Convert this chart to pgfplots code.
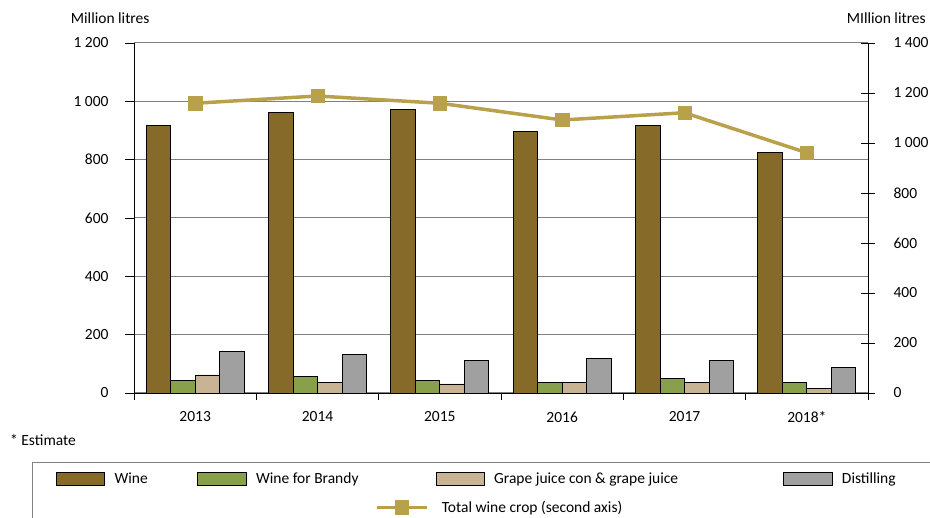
\documentclass[border=0pt]{standalone}
\usepackage{fontspec}
\setmainfont{Carlito}
\usepackage{pgfplots}
\pgfplotsset{compat=1.18}
\definecolor{wine}{RGB}{134,106,42}
\definecolor{brandy}{RGB}{136,160,76}
\definecolor{grape}{RGB}{200,180,148}
\definecolor{distil}{RGB}{160,160,160}
\definecolor{total}{RGB}{185,160,75}
\definecolor{gridc}{RGB}{128,128,128}
\begin{document}
\begin{tikzpicture}[font=\fontsize{15.5}{18}\selectfont]
\useasboundingbox (0,0) rectangle (930pt,-518pt);
\begin{axis}[
  at={(134pt,-393pt)}, anchor=south west,
  width=734pt, height=350pt, scale only axis,
  xmin=-0.5, xmax=5.5, ymin=0, ymax=1200,
  ybar=0pt, bar width=24.5pt,
  axis x line*=bottom, axis y line*=left,
  axis line style={black, line width=0.9pt},
  xtick={0,1,2,3,4,5},
  xticklabels={2013,2014,2015,2016,2017,2018*},
  minor xtick={-0.5,0.5,...,5.5},
  major x tick style={draw=none},
  minor x tick style={black, line width=0.9pt},
  minor tick length=7pt,
  ytick={0,200,...,1200},
  major y tick style={black, line width=0.9pt},
  major tick length=9pt,
  tick align=outside,
  ymajorgrids, major grid style={gridc, line width=1pt},
  /pgf/number format/assume math mode=true,
  /pgf/number format/1000 sep={\ },
  yticklabel style={xshift=-13pt},
  xticklabel style={yshift=-6pt},
  legend image code/.code={\draw[#1] (0pt,-6.3pt) rectangle (48.5pt,6.3pt);},
  legend columns=4,
  legend style={at={(axis description cs:-0.10627,-0.2449)}, anchor=west,
    draw=none, fill=none, inner sep=0pt, outer sep=0pt,
    nodes={inner sep=0pt, outer sep=0pt},
    /tikz/every odd column/.append style={column sep=9.3pt},
    /tikz/every even column/.append style={column sep=0pt}},
]
\addplot[fill=wine, draw=black, line width=0.8pt] coordinates {(0,916) (1,961) (2,972) (3,897) (4,916) (5,825)};
\addlegendentry{\makebox[82.9pt][l]{Wine}}
\addplot[fill=brandy, draw=black, line width=0.8pt] coordinates {(0,43) (1,57) (2,43) (3,37) (4,50) (5,37)};
\addlegendentry{\makebox[179.5pt][l]{Wine for Brandy}}
\addplot[fill=grape, draw=black, line width=0.8pt] coordinates {(0,62) (1,37) (2,31) (3,37) (4,37) (5,16)};
\addlegendentry{\makebox[289.2pt][l]{Grape juice con \& grape juice}}
\addplot[fill=distil, draw=black, line width=0.8pt] coordinates {(0,143) (1,131) (2,112) (3,119) (4,112) (5,89)};
\addlegendentry{Distilling}
\end{axis}
\begin{axis}[
  at={(134pt,-393pt)}, anchor=south west,
  width=734pt, height=350pt, scale only axis,
  xmin=-0.5, xmax=5.5, ymin=0, ymax=1400,
  axis x line=none, axis y line*=right,
  axis line style={black, line width=0.9pt},
  ytick={0,200,...,1400},
  major y tick style={black, line width=0.9pt},
  major tick length=14pt,
  tick align=center,
  /pgf/number format/assume math mode=true,
  /pgf/number format/1000 sep={\ },
  yticklabel style={xshift=15pt},
  clip=false,
  legend image code/.code={\draw[mark repeat=2,mark phase=2,#1] plot coordinates {(0pt,0pt) (25pt,0pt) (50pt,0pt)};},
  legend style={at={(axis description cs:0.3283,-0.3266)}, anchor=west,
    draw=none, fill=none, inner sep=0pt, outer sep=0pt,
    nodes={inner sep=0pt, outer sep=0pt},
    /tikz/every odd column/.append style={column sep=13.3pt}},
]
\addplot[total, line width=3.5pt, mark=square*, mark size=6.65pt, mark options={solid, fill=total, draw=total, line width=0.5pt}] coordinates {(0,1159) (1,1188) (2,1159) (3,1092) (4,1121) (5,961)};
\addlegendentry{Total wine crop (second axis)}
\end{axis}
\node[anchor=west, inner sep=0pt] at (70.7pt,-18pt) {Million litres};
\node[anchor=east, inner sep=0pt] at (926pt,-18pt) {MIllion litres};
\node[anchor=west, inner sep=0pt] at (10pt,-440pt) {* Estimate};
\draw[gridc, line width=1pt] (32pt,-462.6pt) rectangle (980pt,-560pt);
\end{tikzpicture}
\end{document}
